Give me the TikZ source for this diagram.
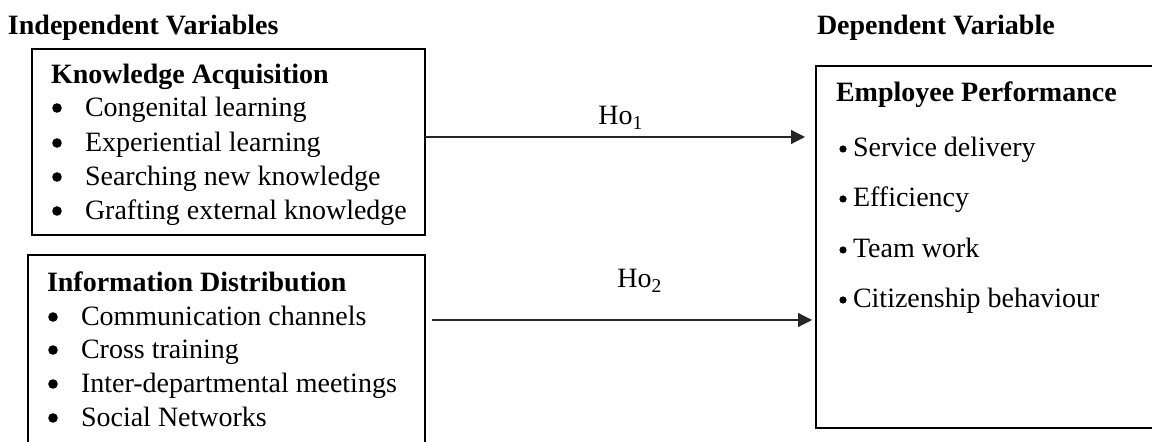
\documentclass[tikz,border=0pt]{standalone}
\usepackage{fontspec}
\setmainfont{Liberation Serif}
\usetikzlibrary{arrows.meta}
\begin{document}
\begin{tikzpicture}[x=0.5pt,y=-0.5pt,
 every node/.style={inner sep=0pt, outer sep=0pt, font=\fontsize{14}{16}\selectfont},
 box/.style={draw, line width=1pt, rectangle, anchor=north west},
 txt/.style={anchor=base west},
 bul/.style={circle, fill=black, minimum size=4.8pt},
 sbul/.style={circle, fill=black, minimum size=3.6pt},
 hd/.style={anchor=base west, font=\fontsize{14}{16}\selectfont\bfseries},
 arr/.style={line width=0.6pt, draw=black!85, -{Triangle[length=7pt,width=7pt]}}]
\useasboundingbox (0,0) rectangle (1152,442);
% headers
\node[hd] (hindep) at (8,35) {Independent Variables};
\node[hd] (hdep) at (817,35) {Dependent Variable};
% boxes
\node[box, minimum width=196.5pt, minimum height=93pt] (ka) at (32,49) {};
\node[box, minimum width=198.5pt, minimum height=107.5pt] (id) at (28,255) {};
\node[box, minimum width=177pt, minimum height=181pt] (ep) at (816,66) {};
% box 1
\node[hd] (kat) at (51,84) {Knowledge Acquisition};
\foreach \t/\y [count=\i] in {Congenital learning/117, Experiential learning/152, Searching new knowledge/186, Grafting external knowledge/220}{
  \node[bul] (kab\i) at (57,\y-9) {};
  \node[txt] (kai\i) at (85,\y) {\t};
}
% box 2
\node[hd] (idt) at (47,292) {Information Distribution};
\foreach \t/\y [count=\i] in {Communication channels/326, Cross training/359, Inter-departmental meetings/393, Social Networks/427}{
  \node[bul] (idb\i) at (53,\y-9) {};
  \node[txt] (idi\i) at (81,\y) {\t};
}
% box 3
\node[hd] (ept) at (836,102) {Employee Performance};
\foreach \t/\y [count=\i] in {Service delivery/157, Efficiency/207, Team work/258, Citizenship behaviour/308}{
  \node[sbul] (epb\i) at (843,\y-8) {};
  \node[txt] (epi\i) at (853,\y) {\t};
}
% arrows
\draw[arr, shorten >=5.5pt] (ka.east |- 0,137) -- (ep.west |- 0,137);
\draw[arr, shorten <=3.5pt, shorten >=2pt] (id.east |- 0,320) -- (ep.west |- 0,320);
\node[anchor=base] (ho1) at (621,125) {Ho\textsubscript{1}};
\node[anchor=base] (ho2) at (640,288) {Ho\textsubscript{2}};
\end{tikzpicture}
\end{document}
